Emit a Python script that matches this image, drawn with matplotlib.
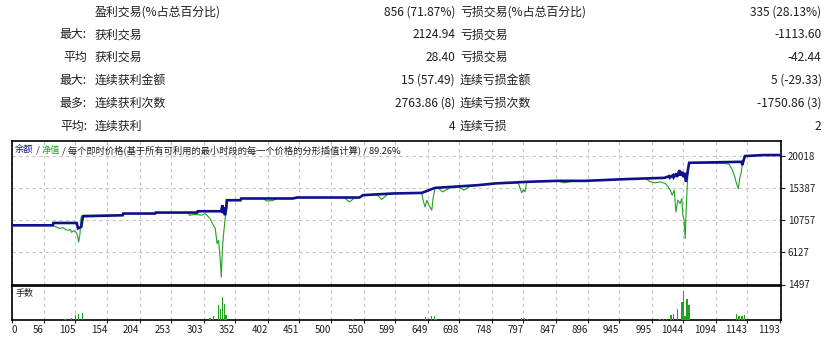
import matplotlib
matplotlib.use("Agg")
import matplotlib.pyplot as plt

plt.rcParams['font.family'] = ['Noto Sans CJK SC', 'DejaVu Sans']

# header statistics table
row_prefix = ["", "最大:", "平均", "最大:", "最多:", "平均:"]
win_labels = ["盈利交易(%占总百分比)", "获利交易", "获利交易", "连续获利金额", "连续获利次数", "连续获利"]
win_values = ["856 (71.87%)", "2124.94", "28.40", "15 (57.49)", "2763.86 (8)", "4"]
loss_labels = ["亏损交易(%占总百分比)", "亏损交易", "亏损交易", "连续亏损金额", "连续亏损次数", "连续亏损"]
loss_values = ["335 (28.13%)", "-1113.60", "-42.44", "5 (-29.33)", "-1750.86 (3)", "2"]

# balance curve (trade number, balance)
bal_t = [0, 70, 71, 107, 109, 114, 116.7, 178, 179, 228, 229, 293, 294, 330, 332, 333,
         335, 336, 338, 339, 360, 361, 441, 447, 544, 549, 595, 640, 660.5, 686, 727,
         753, 802, 849, 893, 954, 1015, 1022, 1023, 1028, 1029, 1033, 1034, 1038, 1039,
         1042, 1044, 1046, 1048, 1051, 1053, 1134, 1135, 1139, 1168, 1193]
bal_v = [10030, 10030, 10370, 10370, 9600, 9800, 11340, 11480, 11730, 11730, 11870, 11870,
         12060, 12060, 12930, 11770, 12640, 11480, 12500, 13650, 13650, 13900, 13900, 14040,
         14040, 14380, 14620, 14708, 15432, 15576, 15823, 16069, 16300, 16444, 16444, 16690,
         16880, 17125, 16900, 17270, 16950, 17515, 17000, 17990, 17200, 17750, 17000, 17600,
         16300, 18000, 19050, 19190, 18716, 20018, 20163, 20163]

# equity curve (trade number, equity)
eq_t = [0, 70, 75, 81, 86, 90, 94, 97, 99, 102, 104, 106, 107.5, 110, 112, 113.7, 116.7,
        178, 179, 228, 229, 279, 281, 290, 300, 305.5, 310, 313, 318, 321, 323.7, 326,
        328.8, 330.3, 331.9, 333.4, 336.5, 338, 339, 360, 361, 395, 400, 410, 416, 441,
        447, 520, 528, 537, 544, 549, 571, 578, 587, 595, 640, 642, 645, 648, 651, 655.4,
        657.4, 660.5, 665, 672, 684, 697, 705, 713, 727, 753, 789, 792, 794.4, 796.9,
        799.5, 802, 849, 860, 876, 891, 954, 985, 993, 1000.6, 1008, 1016, 1020.6, 1023.7,
        1026.8, 1030, 1032.4, 1035.5, 1039, 1041.6, 1043.2, 1045.2, 1046.8, 1048.3, 1049.9,
        1051.9, 1053, 1106, 1114.6, 1119.8, 1123.4, 1126, 1129, 1131, 1133, 1135.3, 1139,
        1168, 1193]
eq_v = [10030, 10030, 9800, 9557, 9700, 9400, 9311, 9450, 9020, 9250, 9170, 9000, 8833,
        7618, 8730, 11235, 11480, 11480, 11730, 11730, 11870, 11870, 11480, 11600, 11500,
        11727, 11300, 10997, 10034, 9600, 7400, 7864, 4970, 2553, 6417, 8342, 11235, 13406,
        13650, 13650, 13900, 13900, 13550, 13600, 13900, 13900, 14040, 14040, 13400, 14040,
        14040, 14380, 14450, 13750, 14500, 14620, 14708, 13652, 12683, 13652, 12928, 12205,
        13898, 15432, 15432, 14853, 15450, 15576, 15099, 15600, 15823, 16069, 16150, 15345,
        14708, 15200, 14853, 16300, 16444, 16155, 16444, 16480, 16690, 16800, 16300, 16155,
        16300, 16069, 15576, 15099, 14376, 15099, 11959, 13652, 13170, 13898, 11481, 10757,
        8110, 12205, 15576, 18716, 19049, 18963, 18860, 17993, 17023, 16069, 15345, 16792,
        17515, 18900, 20018, 20163, 20163]

# lot sizes
lot_t = [89, 99, 105.5, 109.5, 116, 313, 318, 325.7, 329.4, 332.5, 335, 337.6, 533.8,
         646, 655.4, 659.4, 662, 794.4, 798.5, 803.7, 1007.6, 1013, 1018, 1024.6, 1028.8,
         1035, 1041.6, 1044, 1046.6, 1047.5, 1048.4, 1049.3, 1050.5, 1052.8, 1126.5, 1130,
         1134.4, 1138]
lot_v = [0.13, 0.23, 0.53, 0.63, 0.73, 0.23, 0.37, 1.47, 1.13, 2.30, 1.63, 0.47, 0.13,
         0.27, 0.43, 0.37, 0.13, 0.23, 0.20, 0.10, 0.07, 0.10, 0.13, 0.53, 0.63, 1.13,
         1.80, 2.87, 0.37, 0.37, 0.37, 2.13, 0.37, 1.47, 0.63, 0.40, 0.40, 0.53]

y_ticks = [1497, 6127, 10757, 15387, 20018]
x_ticks = [6.6, 56, 105, 154, 204, 253, 303, 352, 402, 451, 500, 550, 599, 649, 698,
           748, 797, 847, 896, 945, 995, 1044, 1094, 1143, 1193]
x_labels = ["0", "56", "105", "154", "204", "253", "303", "352", "402", "451", "500",
            "550", "599", "649", "698", "748", "797", "847", "896", "945", "995", "1044",
            "1094", "1143", "1193"]

W, H = 830, 339
BLUE = '#10108c'
GREEN = '#22a022'
GRID = '#c4c4c4'
TXT = '#1e1e1e'

fig = plt.figure(figsize=(W / 100, H / 100), dpi=100)

# header table
for i in range(len(row_prefix)):
    y = 1 - (12 + i * 22.8) / H
    fig.text(87 / W, y, row_prefix[i], ha='right', va='center', fontsize=8.6, color=TXT)
    fig.text(95 / W, y, win_labels[i], ha='left', va='center', fontsize=8.6, color=TXT)
    fig.text(455 / W, y, win_values[i], ha='right', va='center', fontsize=8.6, color=TXT)
    fig.text(460 / W, y, loss_labels[i], ha='left', va='center', fontsize=8.6, color=TXT)
    fig.text(821.5 / W, y, loss_values[i], ha='right', va='center', fontsize=8.6, color=TXT)

x0, x1 = 11.7, 780.8
ax = fig.add_axes([x0 / W, 1 - 284.5 / H, (x1 - x0) / W, (284.5 - 141) / H])
axv = fig.add_axes([x0 / W, 1 - 320 / H, (x1 - x0) / W, (320 - 285.8) / H])

xlim = (6.6, 1194.5)

# equity and balance
ax.plot(eq_t, eq_v, color=GREEN, lw=0.8, zorder=3)
ax.plot(bal_t, bal_v, color=BLUE, lw=1.9, zorder=4, solid_joinstyle='miter')
ax.set_xlim(*xlim)
ax.set_ylim(1497, 22190)
ax.set_yticks(y_ticks)
ax.set_yticklabels([str(v) for v in y_ticks])
ax.yaxis.tick_right()
ax.tick_params(axis='y', direction='out', length=3, width=0.8, pad=2, labelsize=7,
               colors=TXT)
ax.set_xticks(x_ticks)
ax.tick_params(axis='x', length=0, labelbottom=False)
ax.grid(True, color=GRID, lw=0.8, ls=(0, (3, 3)))
for s in ax.spines.values():
    s.set_color('black')
    s.set_linewidth(1.2)

# lots panel
axv.bar(lot_t, lot_v, width=2.2, color=GREEN, zorder=3)
axv.set_xlim(*xlim)
axv.set_ylim(0, 3.43)
axv.set_yticks([])
axv.set_xticks(x_ticks)
axv.set_xticklabels(x_labels)
axv.tick_params(axis='x', direction='out', length=2, width=0.8, pad=1.5, labelsize=7,
                colors=TXT)
for i, lab in enumerate(axv.get_xticklabels()):
    lab.set_ha('left' if i == 0 else 'right')
axv.grid(True, axis='x', color=GRID, lw=0.8, ls=(0, (3, 3)))
for s in axv.spines.values():
    s.set_color('black')
    s.set_linewidth(1.2)
axv.text(4 / (x1 - x0), 0.78, "手数", transform=axv.transAxes, fontsize=6.5,
         color=TXT, va='center', ha='left')

# legend line inside the chart, coloured pieces chained one after another
parts = [("余额", BLUE), (" / ", TXT), ("净值", GREEN),
         (" / 每个即时价格(基于所有可利用的最小时段的每一个价格的分形插值计算) / 89.26%", TXT)]
prev = fig.text(15 / W, 1 - 150 / H, parts[0][0], color=parts[0][1], fontsize=6.7,
                ha='left', va='center')
for txt, col in parts[1:]:
    prev = ax.annotate(txt, xy=(1, 0.5), xycoords=prev, color=col, fontsize=6.7,
                       ha='left', va='center', annotation_clip=False)

fig.savefig("out.png", dpi=100)
